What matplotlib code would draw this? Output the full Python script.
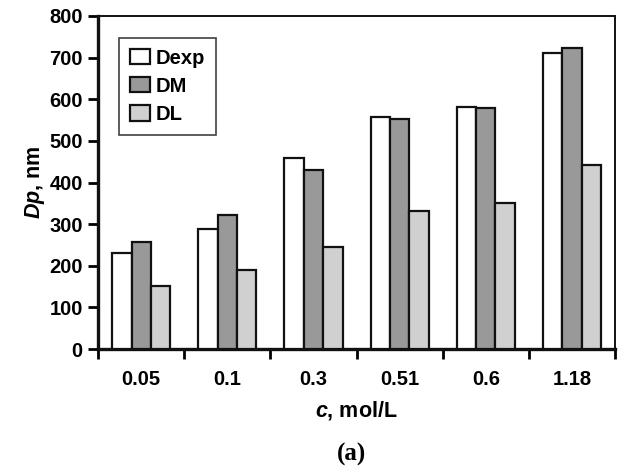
import matplotlib.pyplot as plt
import numpy as np

plt.rcParams["font.family"] = ["Liberation Sans", "DejaVu Sans"]
plt.rcParams["mathtext.fontset"] = "custom"
plt.rcParams["mathtext.it"] = "Liberation Sans:bold:italic"
plt.rcParams["mathtext.rm"] = "Liberation Sans:bold"

# concentration categories and particle diameters (nm)
conc = ["0.05", "0.1", "0.3", "0.51", "0.6", "1.18"]
d_exp = [230, 289, 458, 557, 582, 711]
d_m = [257, 322, 429, 553, 578, 724]
d_l = [151, 191, 244, 332, 352, 442]

series = [("Dexp", d_exp, "white"), ("DM", d_m, "#999999"), ("DL", d_l, "#d0d0d0")]

fig = plt.figure(figsize=(6.25, 4.68), dpi=100)
ax = fig.add_axes([0.157, 0.254, 0.827, 0.712])

x = np.arange(len(conc))
w = 0.225
for i, (name, vals, col) in enumerate(series):
    ax.bar(x + (i - 1) * w, vals, w, color=col, edgecolor="#111111",
           linewidth=1.6, label=name, zorder=3)

ax.set_xlim(-0.5, len(conc) - 0.5)
ax.set_ylim(0, 800)
ax.set_yticks(range(0, 801, 100))
ax.tick_params(axis="y", labelsize=14.5, width=2, length=7, direction="out", pad=4)
ax.set_xticks(np.arange(-0.5, len(conc), 1.0))
ax.set_xticklabels([])
ax.set_xticks(x, minor=True)
ax.set_xticklabels(conc, minor=True)
ax.tick_params(axis="x", which="major", width=2, length=7, direction="out")
ax.tick_params(axis="x", which="minor", length=0, labelsize=14.5, pad=15)
for lab in ax.get_yticklabels() + ax.get_xticklabels(minor=True):
    lab.set_fontweight("bold")

ax.spines["left"].set_linewidth(2.4)
ax.spines["bottom"].set_linewidth(2.4)
ax.spines["top"].set_linewidth(1.4)
ax.spines["right"].set_linewidth(1.4)
for s in ax.spines.values():
    s.set_color("#111111")

ax.set_ylabel(r"$Dp$, nm", fontsize=15.5, fontweight="bold", labelpad=2)
ax.set_xlabel(r"$c$, mol/L", fontsize=15.5, fontweight="bold", labelpad=7)

leg = ax.legend(loc="upper left", bbox_to_anchor=(0.02, 0.965),
                prop={"weight": "bold", "size": 14.5}, frameon=True, fancybox=False,
                edgecolor="#111111", handlelength=1.0, handleheight=0.8,
                handletextpad=0.3, labelspacing=0.45, borderpad=0.55)
leg.get_frame().set_linewidth(1.2)

fig.text(0.563, 0.028, "(a)", fontsize=18, fontweight="bold",
         family="Liberation Serif", ha="center", va="center")

fig.savefig("out.png", dpi=100)
